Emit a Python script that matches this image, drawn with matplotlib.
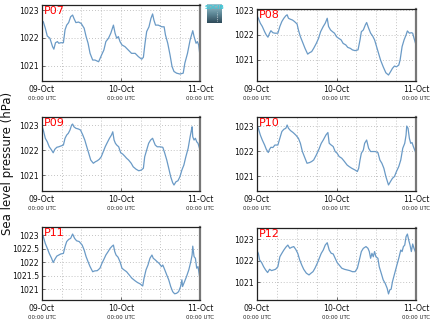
import numpy as np
import matplotlib
matplotlib.use("Agg")
import matplotlib.pyplot as plt
import matplotlib.transforms as mtransforms

# ---------------- data (hours since 09-Oct 00:00 UTC, pressure hPa) ----------------
p07_h = [0, 0.4, 1.0, 1.6, 2.4, 3.2, 3.6, 4.1, 4.7, 5.1, 5.7, 6.5, 7.0, 7.5, 8.1, 8.7, 9.3, 9.7, 10.3, 11.1,
         11.9, 12.8, 13.4, 14.0, 14.6, 15.4, 16.1, 17.2, 18.1, 18.8, 19.4, 20.2, 20.9, 21.7, 22.2, 22.7, 23.2,
         23.7, 24.3, 25.2, 26.2, 27.2, 28.3, 29.3, 30.3, 30.8, 31.3, 31.8, 32.5, 33.1, 33.6, 34.0, 34.5, 35.3,
         36.4, 37.1, 37.5, 38.2, 38.9, 39.5, 40.1, 40.9, 41.9, 42.9, 43.4, 44.2, 45.0, 45.8, 46.2, 46.8, 47.2,
         47.6, 48.0]
p07_v = [1022.62, 1022.58, 1022.35, 1022.07, 1021.99, 1021.69, 1021.60, 1021.83, 1021.87, 1021.81, 1021.83,
         1021.83, 1022.29, 1022.46, 1022.55, 1022.76, 1022.82, 1022.70, 1022.55, 1022.57, 1022.52, 1022.35,
         1022.05, 1021.81, 1021.45, 1021.21, 1021.21, 1021.15, 1021.39, 1021.57, 1021.87, 1021.99, 1022.17,
         1022.46, 1022.17, 1021.99, 1022.05, 1021.87, 1021.75, 1021.69, 1021.57, 1021.45, 1021.45, 1021.33,
         1021.24, 1021.31, 1021.81, 1022.23, 1022.40, 1022.70, 1022.86, 1022.64, 1022.46, 1022.46, 1022.40,
         1022.40, 1022.11, 1021.81, 1021.39, 1020.98, 1020.80, 1020.74, 1020.71, 1020.74, 1021.10, 1021.45,
         1021.93, 1022.26, 1022.05, 1021.81, 1021.87, 1021.75, 1021.36]

p08_h = [0, 0.4, 1.0, 1.6, 2.3, 2.8, 3.3, 3.8, 4.2, 4.8, 5.4, 6.3, 6.9, 7.5, 8.1, 8.7, 9.1, 9.5, 10.1, 10.7,
         11.3, 12.1, 12.5, 13.1, 13.7, 14.5, 15.3, 15.9, 16.5, 17.1, 17.9, 18.6, 19.2, 20.0, 20.6, 21.2, 21.6,
         22.2, 22.8, 23.4, 24.0, 24.6, 25.4, 26.0, 26.8, 27.4, 28.2, 28.8, 29.6, 30.5, 31.1, 31.5, 32.1, 32.7,
         33.1, 33.7, 34.3, 34.9, 35.5, 36.1, 36.7, 37.3, 38.1, 38.9, 39.7, 40.3, 40.9, 41.5, 42.1, 42.8, 43.2,
         43.8, 44.4, 45.0, 45.4, 46.0, 46.6, 47.0, 47.4, 48.0]
p08_v = [1022.77, 1022.67, 1022.47, 1022.34, 1022.13, 1022.00, 1021.91, 1022.07, 1022.17, 1022.09, 1022.07,
         1022.07, 1022.34, 1022.54, 1022.67, 1022.77, 1022.81, 1022.67, 1022.63, 1022.60, 1022.54, 1022.44,
         1022.20, 1021.93, 1021.73, 1021.46, 1021.23, 1021.29, 1021.33, 1021.46, 1021.66, 1021.87, 1022.13,
         1022.34, 1022.47, 1022.67, 1022.34, 1022.20, 1022.13, 1022.07, 1021.93, 1021.87, 1021.80, 1021.66,
         1021.60, 1021.50, 1021.46, 1021.40, 1021.37, 1021.40, 1021.80, 1022.13, 1022.20, 1022.40, 1022.50,
         1022.27, 1022.07, 1021.96, 1021.80, 1021.53, 1021.26, 1020.99, 1020.72, 1020.48, 1020.39, 1020.52,
         1020.66, 1020.75, 1020.72, 1020.79, 1020.99, 1021.53, 1021.80, 1022.00, 1022.16, 1022.07, 1022.09,
         1022.07, 1021.87, 1021.60]

p09_h = [0, 0.4, 1.0, 1.6, 2.2, 2.9, 3.4, 3.9, 4.5, 5.1, 5.7, 6.5, 7.0, 7.5, 8.0, 8.5, 9.0, 9.3, 9.7, 10.3,
         11.1, 11.7, 12.4, 13.0, 13.6, 14.2, 14.8, 15.6, 16.2, 16.8, 17.4, 18.0, 18.6, 19.2, 19.8, 20.5, 21.1,
         21.5, 21.9, 22.3, 22.7, 23.3, 23.9, 24.5, 25.1, 25.7, 26.3, 27.1, 27.7, 28.6, 29.4, 30.2, 30.8, 31.2,
         31.8, 32.4, 33.0, 33.6, 34.0, 34.4, 35.0, 35.8, 36.7, 37.3, 37.9, 38.5, 39.1, 39.7, 40.1, 40.7, 41.3,
         41.9, 42.5, 43.1, 43.7, 44.4, 45.0, 45.4, 45.6, 45.8, 46.2, 46.6, 47.0, 47.4, 48.0]
p09_v = [1022.96, 1022.80, 1022.47, 1022.33, 1022.13, 1022.00, 1021.89, 1022.03, 1022.11, 1022.13, 1022.16,
         1022.20, 1022.47, 1022.60, 1022.67, 1022.80, 1023.00, 1023.04, 1022.93, 1022.87, 1022.84, 1022.80,
         1022.60, 1022.40, 1022.13, 1021.87, 1021.60, 1021.47, 1021.53, 1021.57, 1021.63, 1021.73, 1021.93,
         1022.13, 1022.29, 1022.47, 1022.60, 1022.73, 1022.40, 1022.27, 1022.20, 1022.13, 1021.89, 1021.84,
         1021.76, 1021.67, 1021.60, 1021.47, 1021.33, 1021.23, 1021.17, 1021.20, 1021.27, 1021.73, 1022.00,
         1022.27, 1022.40, 1022.47, 1022.33, 1022.20, 1022.13, 1022.13, 1022.11, 1021.87, 1021.60, 1021.27,
         1020.93, 1020.69, 1020.60, 1020.73, 1020.77, 1020.93, 1021.20, 1021.40, 1021.73, 1022.07, 1022.53,
         1022.80, 1022.93, 1022.53, 1022.40, 1022.47, 1022.33, 1022.27, 1022.00]

p10_h = [0, 0.4, 1.0, 1.6, 2.3, 2.8, 3.4, 3.8, 4.2, 4.8, 5.4, 6.3, 6.9, 7.5, 8.1, 8.7, 9.1, 9.5, 10.1, 10.9,
         11.7, 12.5, 13.1, 13.7, 14.5, 15.1, 15.9, 16.5, 17.1, 17.9, 18.6, 19.4, 20.0, 20.8, 21.4, 21.8, 22.4,
         23.0, 23.6, 24.2, 24.8, 25.6, 26.4, 27.2, 27.8, 28.6, 29.6, 30.3, 30.7, 31.1, 31.5, 32.1, 32.5, 33.1,
         33.7, 34.3, 34.9, 35.7, 36.5, 37.1, 37.7, 38.3, 38.9, 39.7, 40.3, 40.9, 41.5, 42.1, 42.8, 43.4, 44.0,
         44.6, 45.0, 45.2, 45.6, 46.0, 46.4, 46.8, 47.2, 48.0]
p10_v = [1023.05, 1022.92, 1022.65, 1022.45, 1022.25, 1022.08, 1021.95, 1022.08, 1022.16, 1022.15, 1022.25,
         1022.25, 1022.52, 1022.79, 1022.88, 1022.92, 1023.05, 1022.92, 1022.83, 1022.75, 1022.65, 1022.52,
         1022.32, 1021.99, 1021.72, 1021.52, 1021.55, 1021.59, 1021.65, 1021.85, 1022.05, 1022.32, 1022.45,
         1022.65, 1022.75, 1022.32, 1022.25, 1022.19, 1021.99, 1021.92, 1021.79, 1021.72, 1021.59, 1021.45,
         1021.39, 1021.32, 1021.25, 1021.19, 1021.32, 1021.65, 1021.92, 1022.05, 1022.32, 1022.45, 1022.12,
         1021.99, 1021.99, 1021.99, 1021.95, 1021.65, 1021.52, 1021.32, 1020.99, 1020.65, 1020.79, 1020.92,
         1020.99, 1021.19, 1021.39, 1021.65, 1022.12, 1022.32, 1022.65, 1023.01, 1022.92, 1022.52, 1022.32,
         1022.35, 1022.19, 1021.92]

p11_h = [0, 0.4, 1.0, 1.6, 2.2, 2.9, 3.4, 3.9, 4.5, 5.1, 5.7, 6.5, 7.0, 7.5, 8.1, 8.7, 9.3, 9.9, 10.5, 11.3,
         12.2, 12.8, 13.4, 14.0, 14.6, 15.4, 16.0, 16.8, 17.6, 18.2, 18.8, 19.4, 20.1, 20.7, 21.3, 21.7, 22.1,
         22.5, 23.1, 23.7, 24.3, 24.9, 25.7, 26.5, 27.3, 28.2, 29.0, 29.8, 30.6, 31.0, 31.6, 32.2, 32.8, 33.4,
         33.8, 34.4, 35.0, 35.6, 36.3, 36.7, 37.3, 37.9, 38.5, 39.1, 39.7, 40.3, 40.9, 41.5, 42.1, 42.5, 42.7,
         43.3, 43.9, 44.6, 45.2, 45.6, 45.8, 46.2, 46.6, 47.0, 47.4, 47.8, 48.0]
p11_v = [1023.07, 1022.95, 1022.70, 1022.52, 1022.33, 1022.15, 1021.99, 1022.11, 1022.23, 1022.27, 1022.31,
         1022.33, 1022.58, 1022.77, 1022.85, 1022.89, 1023.05, 1022.89, 1022.80, 1022.77, 1022.64, 1022.46,
         1022.21, 1022.02, 1021.84, 1021.65, 1021.68, 1021.69, 1021.78, 1021.96, 1022.11, 1022.27, 1022.40,
         1022.52, 1022.60, 1022.64, 1022.40, 1022.27, 1022.19, 1022.02, 1021.78, 1021.72, 1021.65, 1021.53,
         1021.41, 1021.32, 1021.25, 1021.20, 1021.12, 1021.41, 1021.72, 1021.90, 1022.15, 1022.27, 1022.15,
         1022.09, 1022.02, 1021.96, 1021.84, 1021.90, 1021.72, 1021.53, 1021.35, 1021.10, 1020.91, 1020.83,
         1020.85, 1020.91, 1021.10, 1021.35, 1021.10, 1021.28, 1021.47, 1021.72, 1022.02, 1022.27, 1022.60,
         1022.21, 1022.15, 1021.78, 1021.84, 1021.53, 1021.35]

p12_h = [0, 0.4, 0.8, 1.4, 2.0, 2.6, 3.2, 3.8, 4.4, 5.0, 5.6, 6.3, 6.9, 7.5, 8.1, 8.7, 9.3, 9.9, 10.5, 11.1,
         11.7, 12.3, 12.9, 13.5, 14.1, 14.9, 15.7, 16.3, 16.9, 17.5, 18.2, 18.8, 19.4, 20.0, 20.6, 21.2, 21.8,
         22.4, 23.0, 23.6, 24.2, 24.8, 25.6, 26.4, 27.2, 28.0, 28.8, 29.6, 30.3, 30.9, 31.5, 32.1, 32.9, 33.5,
         33.9, 34.3, 34.7, 35.1, 35.5, 35.9, 36.5, 36.9, 37.5, 38.1, 38.7, 39.3, 39.7, 40.1, 40.5, 40.9, 41.3,
         41.7, 42.1, 42.8, 43.4, 43.8, 44.2, 44.6, 45.0, 45.4, 45.8, 46.2, 46.6, 47.0, 47.4, 48.0]
p12_v = [1022.46, 1022.34, 1022.03, 1021.91, 1021.72, 1021.57, 1021.45, 1021.60, 1021.54, 1021.57, 1021.60,
         1021.72, 1022.18, 1022.34, 1022.49, 1022.62, 1022.72, 1022.57, 1022.62, 1022.65, 1022.52, 1022.34,
         1022.03, 1021.80, 1021.60, 1021.42, 1021.34, 1021.42, 1021.49, 1021.65, 1021.88, 1022.11, 1022.34,
         1022.49, 1022.72, 1022.83, 1022.49, 1022.34, 1022.31, 1022.11, 1021.91, 1021.80, 1021.65, 1021.60,
         1021.57, 1021.54, 1021.49, 1021.49, 1021.65, 1022.03, 1022.42, 1022.57, 1022.65, 1022.57, 1022.42,
         1022.11, 1022.34, 1022.18, 1022.42, 1022.18, 1022.11, 1021.72, 1021.42, 1021.11, 1020.95, 1020.72,
         1020.46, 1020.65, 1020.68, 1021.03, 1021.26, 1021.49, 1021.72, 1022.11, 1022.49, 1022.42, 1022.65,
         1022.72, 1023.11, 1023.23, 1022.95, 1022.72, 1022.42, 1022.77, 1022.57, 1022.34]

station_names = ["P07", "P08", "P09", "P10", "P11", "P12"]
date_labels = ["09-Oct", "10-Oct", "11-Oct"]
time_label = "00:00 UTC"
y_label = "Sea level pressure (hPa)"
logo_text = "SOCIB"

# ---------------- layout ----------------
W, H = 435, 327
fig = plt.figure(figsize=(W / 100, H / 100), dpi=100)
fig.patch.set_facecolor("white")

# (left, right, top, bottom) in pixels; ylim; yticks
panels = [
    (p07_h, p07_v, (42, 200, 5, 81), (1020.46, 1023.18), [1021, 1022, 1023]),
    (p08_h, p08_v, (257, 416, 9.3, 81), (1020.15, 1023.03), [1021, 1022, 1023]),
    (p09_h, p09_v, (42, 200, 117.3, 191), (1020.36, 1023.31), [1021, 1022, 1023]),
    (p10_h, p10_v, (257, 416, 117.3, 191), (1020.41, 1023.36), [1021, 1022, 1023]),
    (p11_h, p11_v, (42, 200, 227.3, 300), (1020.60, 1023.30), [1021, 1021.5, 1022, 1022.5, 1023]),
    (p12_h, p12_v, (257, 416, 228, 300), (1020.18, 1023.51), [1021, 1022, 1023]),
]

line_color = "#6a9ac6"
grid_kw = dict(color="#b0b0b0", linestyle=(0, (1, 2.5)), linewidth=0.6)

for name, (hh, vv, (l, r, t, b), ylim, yt) in zip(station_names, panels):
    ax = fig.add_axes([l / W, 1 - b / H, (r - l) / W, (b - t) / H])
    ax.set_xlim(0, 48)
    ax.set_ylim(*ylim)
    # grid
    for gx in range(6, 48, 6):
        ax.axvline(gx, zorder=0, **grid_kw)
    for gy in yt:
        ax.axhline(gy, zorder=0, **grid_kw)
    ax.plot(hh, vv, color=line_color, lw=0.9, zorder=2)

    ax.set_yticks(yt)
    ax.set_yticklabels([("%g" % v) for v in yt], fontsize=5.6, color="#111111")
    ax.set_xticks([0, 24, 48])
    ax.set_xticklabels([])
    ax.tick_params(axis="both", direction="in", length=2, width=0.5, pad=2.0, color="#333333")
    trans = mtransforms.blended_transform_factory(ax.transData, ax.transAxes)
    for xv, lab in zip([0, 24, 48], date_labels):
        ax.annotate(lab, xy=(xv, 0), xycoords=trans, xytext=(0, -5.8), textcoords="offset points",
                    ha="center", va="center", fontsize=5.6, color="#111111")
        ax.annotate(time_label, xy=(xv, 0), xycoords=trans, xytext=(0, -12.5), textcoords="offset points",
                    ha="center", va="center", fontsize=3.9, color="#222222")
    for side in ["left", "top", "bottom"]:
        ax.spines[side].set_linewidth(0.9)
        ax.spines[side].set_color("#222222")
    ax.spines["right"].set_linewidth(1.6)
    ax.spines["right"].set_color("#777777")
    ax.text(0.012, 0.985, name, transform=ax.transAxes, ha="left", va="top",
            fontsize=8, color="#ff0000", zorder=5)

fig.text(8 / W, 1 - 163 / H, y_label, rotation=90, ha="center", va="center", fontsize=8.5, color="#111111")

# logo
lax = fig.add_axes([207.5 / W, 1 - 23 / H, 15 / W, 19 / H])
grad = np.linspace(0, 1, 50).reshape(-1, 1)
from matplotlib.colors import LinearSegmentedColormap
cmap = LinearSegmentedColormap.from_list("logo", ["#9cc4cf", "#5f8a99", "#2f4b5a"])
lax.imshow(grad, aspect="auto", cmap=cmap, extent=[0, 1, 0, 1], origin="upper")
lax.text(0.5, 0.93, logo_text, transform=lax.transAxes, ha="center", va="top",
         fontsize=4.2, color="#3ec8d8", fontweight="bold")
lax.plot([0.65, 0.65], [0.1, 0.6], color="white", lw=0.5, linestyle=(0, (1, 1.5)))
lax.set_xlim(0, 1)
lax.set_ylim(0, 1)
lax.axis("off")

fig.savefig("out.png", dpi=100)
